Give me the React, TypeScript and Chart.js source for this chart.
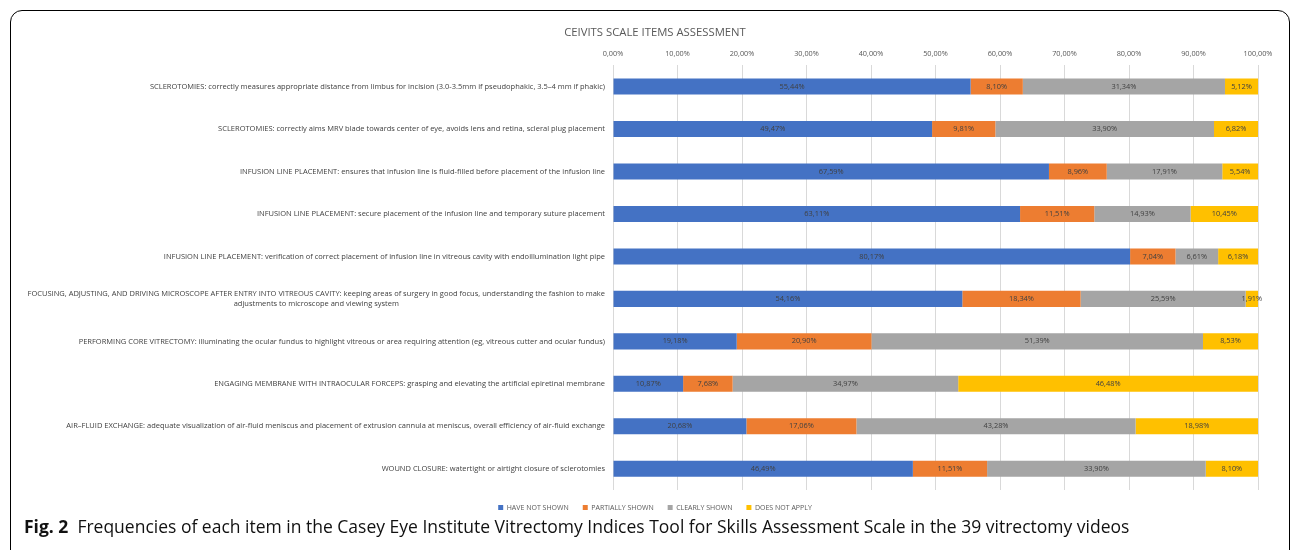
import React, { useEffect, useRef } from "react";
import { Chart, registerables } from "chart.js";

Chart.register(...registerables);

const categories: (string | string[])[] = [
  "SCLEROTOMIES: correctly measures appropriate distance from limbus for incision (3.0-3.5mm if pseudophakic, 3.5–4 mm if phakic)",
  "SCLEROTOMIES: correctly aims MRV blade towards center of eye, avoids lens and retina, scleral plug placement",
  "INFUSION LINE PLACEMENT: ensures that infusion line is fluid-filled before placement of the infusion line",
  "INFUSION LINE PLACEMENT: secure placement of the infusion line and temporary suture placement",
  "INFUSION LINE PLACEMENT: verification of correct placement of infusion line in vitreous cavity with endoillumination light pipe",
  [
    "FOCUSING, ADJUSTING, AND DRIVING MICROSCOPE AFTER ENTRY INTO VITREOUS CAVITY: keeping areas of surgery in good focus, understanding the fashion to make",
    "adjustments to microscope and viewing system",
  ],
  "PERFORMING CORE VITRECTOMY: illuminating the ocular fundus to highlight vitreous or area requiring attention (eg, vitreous cutter and ocular fundus)",
  "ENGAGING MEMBRANE WITH INTRAOCULAR FORCEPS: grasping and elevating the artificial epiretinal membrane",
  "AIR–FLUID EXCHANGE: adequate visualization of air-fluid meniscus and placement of extrusion cannula at meniscus, overall efficiency of air-fluid exchange",
  "WOUND CLOSURE: watertight or airtight closure of sclerotomies",
];

const haveNotShown = [55.44, 49.47, 67.59, 63.11, 80.17, 54.16, 19.18, 10.87, 20.68, 46.49];
const partiallyShown = [8.1, 9.81, 8.96, 11.51, 7.04, 18.34, 20.9, 7.68, 17.06, 11.51];
const clearlyShown = [31.34, 33.9, 17.91, 14.93, 6.61, 25.59, 51.39, 34.97, 43.28, 33.9];
const doesNotApply = [5.12, 6.82, 5.54, 10.45, 6.18, 1.91, 8.53, 46.48, 18.98, 8.1];

const seriesNames = ["HAVE NOT SHOWN", "PARTIALLY SHOWN", "CLEARLY SHOWN", "DOES NOT APPLY"];
const seriesColors = ["#4472C4", "#ED7D31", "#A5A5A5", "#FFC000"];

const chartTitle = "CEIVITS SCALE ITEMS ASSESSMENT";
const xTickValues = [0, 10, 20, 30, 40, 50, 60, 70, 80, 90, 100];

const FONT = "'Open Sans', 'Liberation Sans', sans-serif";
const fmt = (v: number) => v.toFixed(2).replace(".", ",") + "%";

const yLabelPlugin = {
  id: "yLabels",
  afterDraw(chart: any) {
    const ctx = chart.ctx;
    const yScale = chart.scales.y;
    const left = chart.chartArea.left;
    ctx.save();
    ctx.font = `7.5px ${FONT}`;
    ctx.fillStyle = "#404040";
    ctx.textBaseline = "middle";
    const lh = 10.5;
    categories.forEach((lab, i) => {
      const y = yScale.getPixelForValue(i);
      const xr = left - 8;
      if (Array.isArray(lab)) {
        const w = ctx.measureText(lab[0]).width;
        const cx = xr - w / 2;
        const y0 = y - ((lab.length - 1) * lh) / 2;
        lab.forEach((line, k) => {
          ctx.textAlign = "center";
          ctx.fillText(line, cx, y0 + k * lh);
        });
      } else {
        ctx.textAlign = "right";
        ctx.fillText(lab, xr, y);
      }
    });
    ctx.restore();
  },
};

const dataLabelPlugin = {
  id: "dataLabels",
  afterDatasetsDraw(chart: any) {
    const ctx = chart.ctx;
    ctx.save();
    ctx.font = `7.4px ${FONT}`;
    ctx.fillStyle = "#404040";
    ctx.textAlign = "center";
    ctx.textBaseline = "middle";
    chart.data.datasets.forEach((ds: any, di: number) => {
      const meta = chart.getDatasetMeta(di);
      meta.data.forEach((bar: any, i: number) => {
        const v = ds.data[i];
        const cx = (bar.x + bar.base) / 2;
        ctx.fillText(fmt(v), cx, bar.y);
      });
    });
    ctx.restore();
  },
};

export default function App() {
  const ref = useRef<HTMLCanvasElement>(null);
  useEffect(() => {
    if (!ref.current) return;
    const allSeries = [haveNotShown, partiallyShown, clearlyShown, doesNotApply];
    const chart = new Chart(ref.current, {
      type: "bar",
      data: {
        labels: categories.map((c) => (Array.isArray(c) ? c.join(" ") : c)),
        datasets: allSeries.map((d, i) => ({
          label: seriesNames[i],
          data: d,
          backgroundColor: seriesColors[i],
          borderWidth: 0,
          categoryPercentage: 1,
          barPercentage: 0.378,
        })),
      },
      options: {
        indexAxis: "y",
        animation: false,
        responsive: false,
        maintainAspectRatio: false,
        layout: { padding: { top: 0, right: 37, bottom: 2, left: 52 } },
        scales: {
          x: {
            position: "top",
            stacked: true,
            min: 0,
            max: 100,
            afterBuildTicks: (scale: any) => {
              scale.ticks = xTickValues.map((v) => ({ value: v }));
            },
            ticks: {
              callback: (v: any) => fmt(Number(v)),
              font: { family: FONT, size: 7.3 },
              color: "#595959",
              padding: 7,
              maxRotation: 0,
            },
            grid: { color: "#D9D9D9", drawTicks: false, lineWidth: 1 },
            border: { display: false },
          },
          y: {
            stacked: true,
            ticks: { display: false },
            grid: { display: false },
            border: { display: false },
            afterFit: (scale: any) => {
              scale.width = 561;
            },
          },
        },
        plugins: {
          title: {
            display: true,
            text: chartTitle,
            color: "#595959",
            font: { family: FONT, size: 11.3, weight: "normal" },
            padding: { top: 26, bottom: 3 },
          },
          legend: {
            position: "bottom",
            labels: {
              boxWidth: 5,
              boxHeight: 5,
              padding: 14,
              color: "#595959",
              font: { family: FONT, size: 7 },
            },
          },
          tooltip: { enabled: false },
        },
      },
      plugins: [yLabelPlugin, dataLabelPlugin],
    });
    return () => chart.destroy();
  }, []);

  return (
    <div
      style={{
        position: "absolute",
        left: 0,
        top: 0,
        width: 1295,
        height: 550,
        overflow: "hidden",
        background: "#fff",
      }}
    >
      <div
        style={{
          position: "absolute",
          left: 10,
          top: 10,
          width: 1280,
          height: 600,
          border: "1.5px solid #000",
          borderRadius: 12,
          boxSizing: "border-box",
        }}
      />
      <canvas
        ref={ref}
        width={1295}
        height={523}
        style={{ position: "absolute", left: 0, top: 0, width: 1295, height: 523 }}
      />
      <div
        style={{
          position: "absolute",
          left: 24,
          top: 515,
          fontFamily: "'Open Sans', sans-serif",
          fontSize: 17.5,
          lineHeight: "22px",
          color: "#111",
          whiteSpace: "nowrap",
        }}
      >
        <b>Fig. 2</b>
        <span style={{ marginLeft: 9 }}>
          Frequencies of each item in the Casey Eye Institute Vitrectomy Indices Tool for Skills Assessment Scale in the 39 vitrectomy videos
        </span>
      </div>
    </div>
  );
}
